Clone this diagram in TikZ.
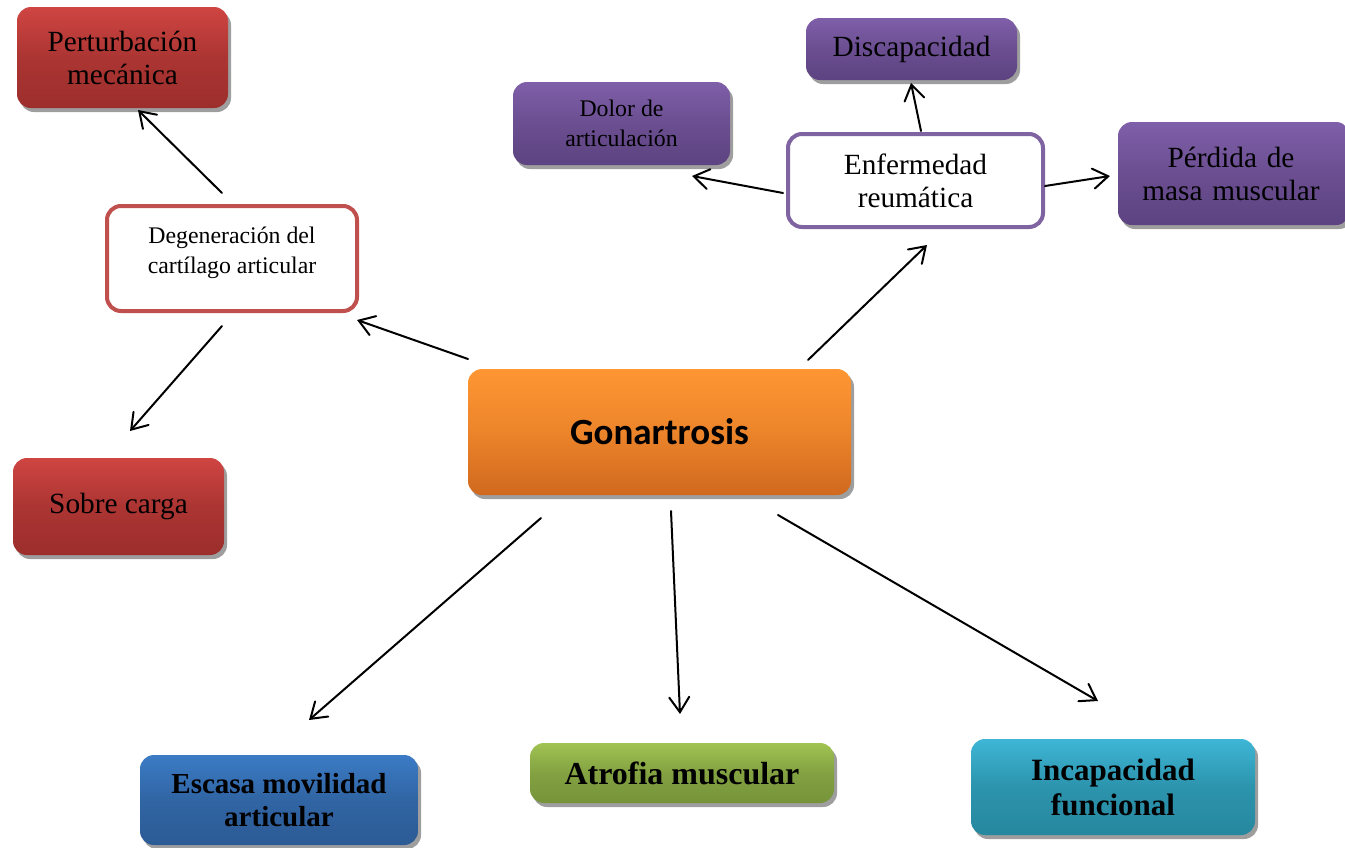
\documentclass[tikz,border=0pt]{standalone}
\usepackage{fontspec}
\setmainfont{Liberation Serif}
\newfontfamily\calibri{Carlito}
\usetikzlibrary{arrows.meta,shadows,calc}
\definecolor{redT}{HTML}{CF4542}
\definecolor{redB}{HTML}{9C2E2C}
\definecolor{purT}{HTML}{7F5FA9}
\definecolor{purB}{HTML}{5D4381}
\definecolor{oraT}{HTML}{FF9633}
\definecolor{oraB}{HTML}{D0691E}
\definecolor{bluT}{HTML}{3B7BC5}
\definecolor{bluB}{HTML}{2C5B95}
\definecolor{grnT}{HTML}{A0C352}
\definecolor{grnB}{HTML}{76933A}
\definecolor{tealT}{HTML}{3EB6D6}
\definecolor{tealB}{HTML}{26889F}
\definecolor{redLine}{HTML}{C0504D}
\definecolor{purLine}{HTML}{8064A2}
\tikzset{
  box/.style={rounded corners=14pt, inner sep=0pt, align=center, text=black,
    drop shadow={shadow xshift=3pt,shadow yshift=-4pt,fill=black!38,opacity=1}},
  redbox/.style={box, top color=redT, bottom color=redB, middle color=redB!70!redT},
  purbox/.style={box, top color=purT, bottom color=purB, middle color=purB!60!purT},
  orabox/.style={box, top color=oraT, bottom color=oraB, middle color=oraB!40!oraT},
  blubox/.style={box, top color=bluT, bottom color=bluB, middle color=bluB!70!bluT},
  grnbox/.style={box, top color=grnT, bottom color=grnB, middle color=grnB!70!grnT},
  tealbox/.style={box, top color=tealT, bottom color=tealB, middle color=tealB!75!tealT},
  whitebox/.style={rounded corners=14pt, inner sep=0pt, align=center, fill=white, line width=4pt},
  bigser/.style={font=\fontsize{29.3}{33}\selectfont},
  midser/.style={font=\fontsize{23.8}{30.5}\selectfont},
  boldser/.style={font=\bfseries\fontsize{29}{33}\selectfont},
  arr/.style={line width=2pt, line cap=round, -{Straight Barb[length=15pt,width=20pt,line cap=round]}}
}
\begin{document}
\begin{tikzpicture}[x=1pt,y=-1pt]
\useasboundingbox (0,0) rectangle (1345,847);
% nodes
\node[redbox, bigser, minimum width=211pt, minimum height=101pt] (perturb) at (122.5,57.5) {Perturbación\\mecánica};
\node[whitebox, draw=redLine, midser, minimum width=250pt, minimum height=105pt] (degen) at (232,258.5) {Degeneración del\\cartílago articular\\[-14pt]\mbox{}};
\node[redbox, bigser, minimum width=211pt, minimum height=97pt] (sobre) at (118.5,506.5) {Sobre carga};
\node[orabox, font=\calibri\bfseries\fontsize{37}{40}\selectfont, minimum width=383pt, minimum height=126pt] (gon) at (659.5,432) {Gonartrosis};
\node[purbox, midser, minimum width=217pt, minimum height=83pt] (dolor) at (621.5,123.5) {Dolor de\\articulación};
\node[purbox, bigser, minimum width=211pt, minimum height=62pt] (discap) at (911.5,49) {Discapacidad};
\node[whitebox, draw=purLine, bigser, minimum width=255pt, minimum height=93pt] (enferm) at (915.5,180.5) {Enfermedad\\reumática};
\node[purbox, bigser, minimum width=232pt, minimum height=103pt, text width=232pt] (perdida) at (1234,173.5) {\hspace*{-6pt}Pérdida de\\\hspace*{-6pt}masa muscular};
\node[blubox, boldser, minimum width=278pt, minimum height=90pt] (escasa) at (279,800) {Escasa movilidad\\articular};
\node[grnbox, font=\bfseries\fontsize{32}{36}\selectfont, minimum width=304pt, minimum height=60pt] (atrofia) at (682,773) {Atrofia muscular};
\node[tealbox, font=\bfseries\fontsize{31}{35}\selectfont, minimum width=284pt, minimum height=96pt] (incap) at (1113,787) {Incapacidad\\funcional};
% connectors
\draw[arr] ($(degen)+(-10,-65.5)$) -- ($(perturb)+(15.5,52.5)$);
\draw[arr] ($(degen)+(-10,67.5)$) -- ($(sobre)+(11.5,-75.5)$);
\draw[arr] ($(gon)+(-191.5,-73)$) -- ($(degen)+(125,61.5)$);
\draw[arr] ($(gon)+(148.5,-72)$) -- ($(enferm)+(11.5,64.5)$);
\draw[arr] ($(enferm)+(-132.5,12.5)$) -- ($(dolor)+(70.5,52.5)$);
\draw[arr] ($(enferm)+(5.5,-49.5)$) -- ($(discap)+(-0.5,34)$);
\draw[arr] ($(enferm)+(129.5,5.5)$) -- ($(perdida)+(-124,2.5)$);
\draw[arr] ($(gon)+(-118.5,86)$) -- ($(escasa)+(30,-80)$);
\draw[arr] ($(gon)+(11.5,79)$) -- ($(atrofia)+(-2,-59)$);
\draw[arr] ($(gon)+(118.5,83)$) -- ($(incap)+(-15,-86)$);
\end{tikzpicture}
\end{document}
